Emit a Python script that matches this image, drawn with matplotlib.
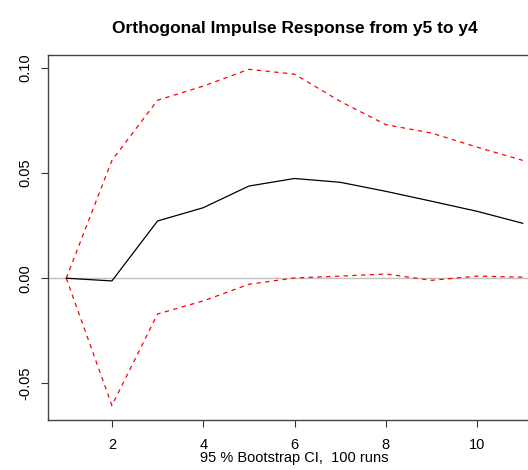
import matplotlib
matplotlib.use("Agg")
import matplotlib.pyplot as plt

plt.rcParams['font.family'] = ['Liberation Sans', 'DejaVu Sans']

steps = [1, 2, 3, 4, 5, 6, 7, 8, 9, 10, 11]
irf = [0.0, -0.0013, 0.0272, 0.0335, 0.0438, 0.0474, 0.0456, 0.0413, 0.0366, 0.0318, 0.0261]
upper = [0.0, 0.0560, 0.0846, 0.0913, 0.0993, 0.0970, 0.0841, 0.0730, 0.0690, 0.0623, 0.0560]
lower = [0.0, -0.0605, -0.0170, -0.0108, -0.0029, 0.0001, 0.0010, 0.0020, -0.0010, 0.0010, 0.0005]
xticks = [2, 4, 6, 8, 10]
yticks = [-0.05, 0.00, 0.05, 0.10]
ytick_labels = ["-0.05", "0.00", "0.05", "0.10"]

fig = plt.figure(figsize=(5.28, 4.70), dpi=100)
ax = fig.add_axes([48/528, 50/470, 493/528, 365/470])

ax.axhline(0, color='#c0c0c0', lw=1.0, zorder=1)
ax.plot(steps, irf, color='black', lw=0.9, zorder=3)
ax.plot(steps, upper, color='red', lw=0.9, ls=(0, (3.5, 3.5)), zorder=2)
ax.plot(steps, lower, color='red', lw=0.9, ls=(0, (3.5, 3.5)), zorder=2)

ax.set_xlim(0.6, 11.4)
ax.set_ylim(-0.0674, 0.1061)
ax.set_xticks(xticks)
ax.set_xticklabels([str(t) for t in xticks], fontsize=10.5)
ax.set_yticks(yticks)
ax.set_yticklabels(ytick_labels, fontsize=10.5, rotation=90, va='center')
ax.tick_params(direction='out', length=5, width=0.8, color='#333333', pad=6)
ax.tick_params(axis='x', pad=8)
for s in ax.spines.values():
    s.set_color('#444444')
    s.set_linewidth(1.0)

ax.set_xlabel("95 % Bootstrap CI,  100 runs", fontsize=10.5, labelpad=-1)
ax.set_title("Orthogonal Impulse Response from y5 to y4", fontsize=12.5,
             fontweight='bold', pad=16)

fig.savefig("out.png", dpi=100)
